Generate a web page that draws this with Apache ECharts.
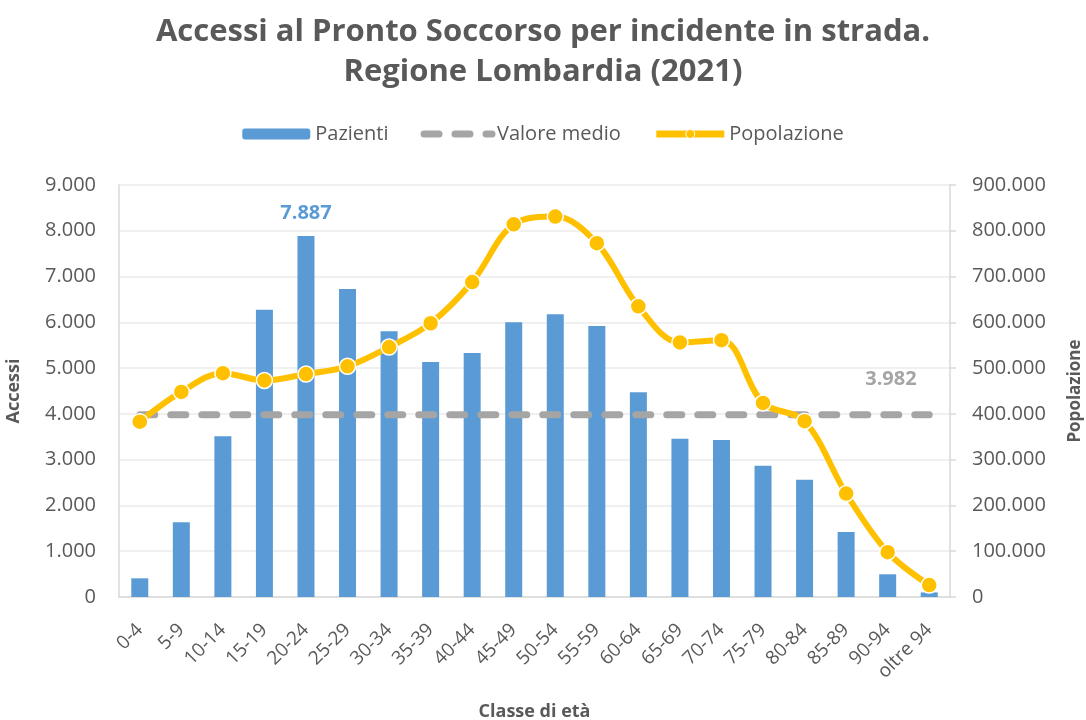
<!DOCTYPE html>
<html>
<head>
<meta charset="utf-8">
<script src="https://cdn.jsdelivr.net/npm/echarts@6/dist/echarts.min.js"></script>
<style>
  html, body { margin: 0; padding: 0; background: #fff; }
  #chart { width: 1086px; height: 720px; }
</style>
</head>
<body>
<div id="chart"></div>
<script>
const categories = ['0-4', '5-9', '10-14', '15-19', '20-24', '25-29', '30-34', '35-39', '40-44', '45-49',
  '50-54', '55-59', '60-64', '65-69', '70-74', '75-79', '80-84', '85-89', '90-94', 'oltre 94'];
const pazienti = [408, 1632, 3510, 6276, 7887, 6728, 5803, 5133, 5330, 6000,
  6175, 5920, 4471, 3458, 3430, 2868, 2562, 1420, 496, 100];
const popolazione = [383000, 448000, 489000, 473000, 487000, 504000, 546000, 598000, 688000, 814000,
  831000, 773000, 635000, 556000, 561000, 424000, 384000, 226000, 98000, 26000];
const valoreMedio = 3982;
const maxPazienti = 7887;

const font = '"Open Sans", sans-serif';
const grey = '#595959';
const dash = [15, 16];

function fmt(v) {
  return String(Math.round(v)).replace(/\B(?=(\d{3})+(?!\d))/g, '.');
}

const chart = echarts.init(document.getElementById('chart'));

chart.setOption({
  animation: false,
  textStyle: { fontFamily: font },
  title: {
    text: 'Accessi al Pronto Soccorso per incidente in strada.\nRegione Lombardia (2021)',
    left: 'center',
    top: 7,
    textStyle: { fontFamily: font, fontSize: 31, fontWeight: 'bold', color: grey, lineHeight: 40 }
  },
  legend: {
    top: 119,
    left: 'center',
    itemWidth: 68,
    itemHeight: 11,
    itemGap: 32,
    textStyle: { fontFamily: font, fontSize: 20, color: grey },
    data: [
      { name: 'Pazienti' },
      { name: 'Valore medio', itemStyle: { opacity: 0 }, lineStyle: { width: 7, type: dash, cap: 'round', color: '#A5A5A5' } },
      { name: 'Popolazione', itemStyle: { borderWidth: 1 }, lineStyle: { width: 7, color: '#FFC000' } }
    ]
  },
  grid: { left: 119, right: 136, top: 185, bottom: 123, outerBoundsMode: 'none', containLabel: false },
  xAxis: {
    type: 'category',
    data: categories,
    name: 'Classe di età',
    nameLocation: 'middle',
    nameGap: 106,
    nameTextStyle: { fontFamily: font, fontSize: 18, fontWeight: 'bold', color: grey },
    axisLine: { lineStyle: { color: '#D9D9D9', width: 1.5 } },
    axisTick: { show: false },
    axisLabel: { rotate: 45, fontSize: 19, color: grey, margin: 30, interval: 0 }
  },
  yAxis: [
    {
      type: 'value',
      min: 0, max: 9000, interval: 1000,
      name: 'Accessi',
      nameLocation: 'middle',
      nameRotate: 90,
      nameGap: 96,
      nameTextStyle: { fontFamily: font, fontSize: 18, fontWeight: 'bold', color: grey },
      axisLine: { show: true, lineStyle: { color: '#D9D9D9', width: 1.5 } },
      axisTick: { show: false },
      axisLabel: { fontSize: 20, color: grey, margin: 23, formatter: fmt },
      splitLine: { lineStyle: { color: '#EBEBEB', width: 1.5 } }
    },
    {
      type: 'value',
      min: 0, max: 900000, interval: 100000,
      position: 'right',
      name: 'Popolazione',
      nameLocation: 'middle',
      nameRotate: 90,
      nameGap: 117,
      nameTextStyle: { fontFamily: font, fontSize: 17, fontWeight: 'bold', color: grey },
      axisLine: { show: true, lineStyle: { color: '#D9D9D9', width: 1.5 } },
      axisTick: { show: true, length: 6, lineStyle: { color: '#D9D9D9', width: 1.5 } },
      axisLabel: { fontSize: 20, color: grey, margin: 22, formatter: fmt },
      splitLine: { show: false }
    }
  ],
  series: [
    {
      name: 'Pazienti',
      type: 'bar',
      yAxisIndex: 0,
      barWidth: 17,
      itemStyle: { color: '#5B9BD5' },
      data: pazienti.map(v => ({
        value: v,
        label: v === maxPazienti ? {
          show: true, position: 'top', distance: 13, formatter: p => fmt(p.value),
          fontFamily: font, fontSize: 20, fontWeight: 'bold', color: '#5B9BD5'
        } : { show: false }
      })),
      z: 1
    },
    {
      name: 'Valore medio',
      type: 'line',
      yAxisIndex: 0,
      symbol: 'none',
      lineStyle: { color: '#A5A5A5', width: 7, type: dash, cap: 'round' },
      itemStyle: { color: '#A5A5A5' },
      endLabel: {
        show: true, formatter: () => fmt(valoreMedio), offset: [-72, -35],
        fontFamily: font, fontSize: 20, fontWeight: 'bold', color: '#A5A5A5'
      },
      data: categories.map(() => valoreMedio),
      z: 2
    },
    {
      name: 'Popolazione',
      type: 'line',
      yAxisIndex: 1,
      smooth: 0.35,
      symbol: 'circle',
      symbolSize: 16,
      lineStyle: { color: '#FFC000', width: 6 },
      itemStyle: { color: '#FFC000', borderColor: '#fff', borderWidth: 1.5 },
      data: popolazione,
      z: 3
    }
  ]
});
</script>
</body>
</html>
